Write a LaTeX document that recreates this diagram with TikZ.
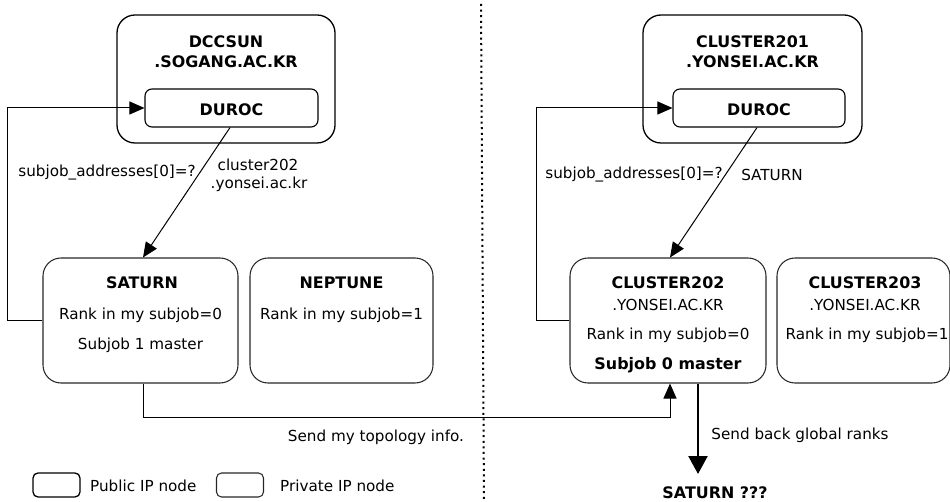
\documentclass[tikz,border=0pt]{standalone}
\usepackage{fontspec}
\setmainfont{DejaVu Sans}
\usetikzlibrary{arrows.meta}

\tikzset{
  pubbox/.style={draw=black, line width=1.3pt, rounded corners=18pt, minimum width=#1, inner sep=0pt},
  privbox/.style={draw=black!85, line width=1.05pt, rounded corners=18pt, minimum width=#1, inner sep=0pt},
  daemon/.style={draw=black, line width=1.1pt, rounded corners=7pt, minimum width=#1, minimum height=38pt, inner sep=0pt},
  legpub/.style={draw=black, line width=1.3pt, rounded corners=5pt, minimum width=47pt, minimum height=24pt, inner sep=0pt},
  legpriv/.style={draw=black!85, line width=1.05pt, rounded corners=5pt, minimum width=47pt, minimum height=24pt, inner sep=0pt},
  txt/.style={inner sep=0pt, font=\fontsize{15.2}{18}\selectfont},
  btxt/.style={txt, font=\fontsize{15.9}{18}\selectfont\bfseries},
  link/.style={draw, line width=1pt, -{Triangle[length=15pt,width=13pt]}},
  bigarrow/.style={draw, line width=2.4pt, -{Triangle[length=18pt,width=19pt]}},
  divider/.style={draw, line width=2pt, dash pattern=on 2pt off 3.6pt}
}

\begin{document}
\begin{tikzpicture}[x=1pt, y=-1pt]
\useasboundingbox (0,0) rectangle (950,502);

% separator between the two sites
\draw[divider] (481,4) -- (484,502);

% ---------------- left site: SOGANG ----------------
\node[pubbox=218pt, minimum height=128pt] (dcc) at (226,79) {};
\node[btxt] (dccname) at (226,42) {DCCSUN};
\node[btxt] (dccdom) at (226,62) {.SOGANG.AC.KR};
\node[daemon=173pt] (duroc1) at (231.5,108) {};
\node[btxt] (durocA) at (231.5,110) {DUROC};

\node[privbox=195pt, minimum height=125pt] (saturn) at (140.5,320.5) {};
\node[btxt] (satname) at (142,283) {SATURN};
\node[txt] (satrank) at (140.5,315) {Rank in my subjob=0};
\node[txt] (satmaster) at (140.5,345) {Subjob 1 master};

\node[privbox=183pt, minimum height=125pt] (neptune) at (341.5,320.5) {};
\node[btxt] (nepname) at (341.5,283) {NEPTUNE};
\node[txt] (neprank) at (341.5,315) {Rank in my subjob=1};

\node[txt] (qleft) at (107,173) {subjob\_addresses[0]=?};
\node[txt] (ansA) at (258,165) {cluster202};
\node[txt] (ansB) at (259,184) {.yonsei.ac.kr};

\draw[link] (saturn.west) -- ++(-35,0) |- (duroc1.west);
\draw[link] ([xshift=-1.5pt]duroc1.south) -- ([xshift=2.5pt]saturn.north);

% ---------------- right site: YONSEI ----------------
\node[pubbox=219pt, minimum height=128pt] (c201) at (752.5,79) {};
\node[btxt] (c201name) at (752.5,42) {CLUSTER201};
\node[btxt] (c201dom) at (752.5,62) {.YONSEI.AC.KR};
\node[daemon=172pt] (duroc2) at (759,108) {};
\node[btxt] (durocB) at (759,110) {DUROC};

\node[privbox=196pt, minimum height=125pt] (c202) at (668,320.5) {};
\node[btxt] (c202name) at (668,283) {CLUSTER202};
\node[txt] (c202dom) at (668,305) {.YONSEI.AC.KR};
\node[txt] (c202rank) at (668,335) {Rank in my subjob=0};
\node[btxt] (c202master) at (668,365) {Subjob 0 master};

\node[privbox=173pt, minimum height=125pt] (c203) at (863.5,320.5) {};
\node[btxt] (c203name) at (865,283) {CLUSTER203};
\node[txt] (c203dom) at (865,305) {.YONSEI.AC.KR};
\node[txt] (c203rank) at (867,335) {Rank in my subjob=1};

\node[txt] (qright) at (634,175) {subjob\_addresses[0]=?};
\node[txt] (ansC) at (772,175) {SATURN};

\draw[link] (c202.west) -- ++(-33,0) |- (duroc2.west);
\draw[link] ([xshift=-2pt]duroc2.south) -- ([xshift=2pt]c202.north);

% ---------------- exchange between the sites ----------------
\draw[link] ([xshift=2.5pt]saturn.south) -- ++(0,34) -| ([xshift=2pt]c202.south);
\node[txt] (topo) at (376,437) {Send my topology info.};

\coordinate (tip) at (698,474);
\draw[bigarrow] (c202.south -| tip) -- (tip);
\node[txt] (back) at (800,435) {Send back global ranks};
\node[btxt] (unknown) at (715,493) {SATURN ???};

% ---------------- legend ----------------
\node[legpub] (lpub) at (56.5,485) {};
\node[txt, anchor=west] (lpubtxt) at (90,486) {Public IP node};
\node[legpriv] (lpriv) at (240,485) {};
\node[txt, anchor=west] (lprivtxt) at (280,486) {Private IP node};
\end{tikzpicture}
\end{document}
